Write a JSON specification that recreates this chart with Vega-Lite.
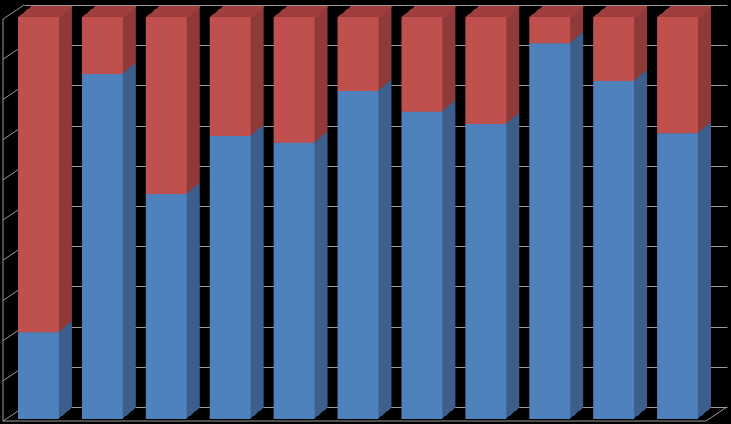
{
  "width": 703,
  "height": 402,
  "autosize": {"type": "none"},
  "padding": {"left": 24, "top": 5, "right": 4, "bottom": 17},
  "background": "#000000",
  "config": {
    "view": {"stroke": null},
    "axisY": {"domain": false, "ticks": false, "labels": false, "grid": true, "gridColor": "#999999", "gridWidth": 1, "tickCount": 10, "titleOpacity": 0},
    "axisX": {"disable": true}
  },
  "datasets": {
    "bars": [
      {"cat": "1", "blue": 21.6, "total": 100},
      {"cat": "2", "blue": 85.8, "total": 100},
      {"cat": "3", "blue": 56.0, "total": 100},
      {"cat": "4", "blue": 70.4, "total": 100},
      {"cat": "5", "blue": 68.7, "total": 100},
      {"cat": "6", "blue": 81.6, "total": 100},
      {"cat": "7", "blue": 76.4, "total": 100},
      {"cat": "8", "blue": 73.4, "total": 100},
      {"cat": "9", "blue": 93.5, "total": 100},
      {"cat": "10", "blue": 84.1, "total": 100},
      {"cat": "11", "blue": 71.1, "total": 100}
    ],
    "levels": [
      {"c": "1", "lv": 0}, {"c": "1", "lv": 10}, {"c": "1", "lv": 20}, {"c": "1", "lv": 30}, {"c": "1", "lv": 40}, {"c": "1", "lv": 50},
      {"c": "1", "lv": 60}, {"c": "1", "lv": 70}, {"c": "1", "lv": 80}, {"c": "1", "lv": 90}, {"c": "1", "lv": 100}
    ],
    "edges": [
      {"first": "1", "last": "11", "low": 0, "high": 100}
    ]
  },
  "data": {"name": "bars"},
  "layer": [
    {"data": {"name": "levels"}, "mark": {"type": "rule", "color": "#999999", "strokeWidth": 1, "xOffset": -31.95, "x2Offset": -52.95, "yOffset": 0, "y2Offset": 14}, "encoding": {"x": {"field": "c", "type": "ordinal", "scale": {"domain": ["1", "2", "3", "4", "5", "6", "7", "8", "9", "10", "11"], "paddingInner": 0.36, "paddingOuter": 0.18}}, "x2": {"field": "c"}, "y": {"field": "lv", "type": "quantitative", "scale": {"domain": [0, 100], "nice": false}}, "y2": {"field": "lv"}}},
    {"data": {"name": "edges"}, "mark": {"type": "rule", "color": "#999999", "strokeWidth": 1, "xOffset": -52.95, "yOffset": 14, "y2Offset": 14}, "encoding": {"x": {"field": "first", "type": "ordinal"}, "y": {"field": "low", "type": "quantitative"}, "y2": {"field": "high"}}},
    {"data": {"name": "edges"}, "mark": {"type": "rule", "color": "#999999", "strokeWidth": 1, "xOffset": -52.95, "x2Offset": 10.96, "yOffset": 14, "y2Offset": 14}, "encoding": {"x": {"field": "first", "type": "ordinal"}, "x2": {"field": "last"}, "y": {"field": "low", "type": "quantitative"}, "y2": {"field": "low"}}},
    {"data": {"name": "edges"}, "mark": {"type": "rule", "color": "#999999", "strokeWidth": 1, "xOffset": 10.96, "x2Offset": 31.96, "yOffset": 14, "y2Offset": 0}, "encoding": {"x": {"field": "last", "type": "ordinal"}, "x2": {"field": "last"}, "y": {"field": "low", "type": "quantitative"}, "y2": {"field": "low"}}},

    {"mark": {"type": "bar", "color": "#3d5f8c", "xOffset": -4.5, "yOffset": 1, "y2Offset": 1}, "encoding": {"x": {"field": "cat", "type": "ordinal"}, "y": {"field": "blue", "type": "quantitative"}}},
    {"mark": {"type": "bar", "color": "#8f3b39", "xOffset": -4.5, "yOffset": 1, "y2Offset": 1}, "encoding": {"x": {"field": "cat", "type": "ordinal"}, "y": {"field": "blue", "type": "quantitative"}, "y2": {"field": "total"}}},
    {"mark": {"type": "tick", "color": "#a4423f", "size": 41, "thickness": 2, "xOffset": -4.5, "yOffset": 2}, "encoding": {"x": {"field": "cat", "type": "ordinal"}, "y": {"field": "total", "type": "quantitative"}}},

    {"mark": {"type": "bar", "color": "#3d5f8c", "xOffset": -5.5, "yOffset": 2, "y2Offset": 2}, "encoding": {"x": {"field": "cat", "type": "ordinal"}, "y": {"field": "blue", "type": "quantitative"}}},
    {"mark": {"type": "bar", "color": "#8f3b39", "xOffset": -5.5, "yOffset": 2, "y2Offset": 2}, "encoding": {"x": {"field": "cat", "type": "ordinal"}, "y": {"field": "blue", "type": "quantitative"}, "y2": {"field": "total"}}},
    {"mark": {"type": "tick", "color": "#a4423f", "size": 41, "thickness": 2, "xOffset": -5.5, "yOffset": 3}, "encoding": {"x": {"field": "cat", "type": "ordinal"}, "y": {"field": "total", "type": "quantitative"}}},

    {"mark": {"type": "bar", "color": "#3d5f8c", "xOffset": -6.5, "yOffset": 3, "y2Offset": 3}, "encoding": {"x": {"field": "cat", "type": "ordinal"}, "y": {"field": "blue", "type": "quantitative"}}},
    {"mark": {"type": "bar", "color": "#8f3b39", "xOffset": -6.5, "yOffset": 3, "y2Offset": 3}, "encoding": {"x": {"field": "cat", "type": "ordinal"}, "y": {"field": "blue", "type": "quantitative"}, "y2": {"field": "total"}}},
    {"mark": {"type": "tick", "color": "#a4423f", "size": 41, "thickness": 2, "xOffset": -6.5, "yOffset": 4}, "encoding": {"x": {"field": "cat", "type": "ordinal"}, "y": {"field": "total", "type": "quantitative"}}},

    {"mark": {"type": "bar", "color": "#3d5f8c", "xOffset": -7.5, "yOffset": 4, "y2Offset": 4}, "encoding": {"x": {"field": "cat", "type": "ordinal"}, "y": {"field": "blue", "type": "quantitative"}}},
    {"mark": {"type": "bar", "color": "#8f3b39", "xOffset": -7.5, "yOffset": 4, "y2Offset": 4}, "encoding": {"x": {"field": "cat", "type": "ordinal"}, "y": {"field": "blue", "type": "quantitative"}, "y2": {"field": "total"}}},
    {"mark": {"type": "tick", "color": "#a4423f", "size": 41, "thickness": 2, "xOffset": -7.5, "yOffset": 5}, "encoding": {"x": {"field": "cat", "type": "ordinal"}, "y": {"field": "total", "type": "quantitative"}}},

    {"mark": {"type": "bar", "color": "#3d5f8c", "xOffset": -8.5, "yOffset": 4, "y2Offset": 4}, "encoding": {"x": {"field": "cat", "type": "ordinal"}, "y": {"field": "blue", "type": "quantitative"}}},
    {"mark": {"type": "bar", "color": "#8f3b39", "xOffset": -8.5, "yOffset": 4, "y2Offset": 4}, "encoding": {"x": {"field": "cat", "type": "ordinal"}, "y": {"field": "blue", "type": "quantitative"}, "y2": {"field": "total"}}},
    {"mark": {"type": "tick", "color": "#a4423f", "size": 41, "thickness": 2, "xOffset": -8.5, "yOffset": 5}, "encoding": {"x": {"field": "cat", "type": "ordinal"}, "y": {"field": "total", "type": "quantitative"}}},

    {"mark": {"type": "bar", "color": "#3d5f8c", "xOffset": -9.5, "yOffset": 5, "y2Offset": 5}, "encoding": {"x": {"field": "cat", "type": "ordinal"}, "y": {"field": "blue", "type": "quantitative"}}},
    {"mark": {"type": "bar", "color": "#8f3b39", "xOffset": -9.5, "yOffset": 5, "y2Offset": 5}, "encoding": {"x": {"field": "cat", "type": "ordinal"}, "y": {"field": "blue", "type": "quantitative"}, "y2": {"field": "total"}}},
    {"mark": {"type": "tick", "color": "#a4423f", "size": 41, "thickness": 2, "xOffset": -9.5, "yOffset": 6}, "encoding": {"x": {"field": "cat", "type": "ordinal"}, "y": {"field": "total", "type": "quantitative"}}},

    {"mark": {"type": "bar", "color": "#3d5f8c", "xOffset": -10.5, "yOffset": 6, "y2Offset": 6}, "encoding": {"x": {"field": "cat", "type": "ordinal"}, "y": {"field": "blue", "type": "quantitative"}}},
    {"mark": {"type": "bar", "color": "#8f3b39", "xOffset": -10.5, "yOffset": 6, "y2Offset": 6}, "encoding": {"x": {"field": "cat", "type": "ordinal"}, "y": {"field": "blue", "type": "quantitative"}, "y2": {"field": "total"}}},
    {"mark": {"type": "tick", "color": "#a4423f", "size": 41, "thickness": 2, "xOffset": -10.5, "yOffset": 7}, "encoding": {"x": {"field": "cat", "type": "ordinal"}, "y": {"field": "total", "type": "quantitative"}}},

    {"mark": {"type": "bar", "color": "#3d5f8c", "xOffset": -11.5, "yOffset": 7, "y2Offset": 7}, "encoding": {"x": {"field": "cat", "type": "ordinal"}, "y": {"field": "blue", "type": "quantitative"}}},
    {"mark": {"type": "bar", "color": "#8f3b39", "xOffset": -11.5, "yOffset": 7, "y2Offset": 7}, "encoding": {"x": {"field": "cat", "type": "ordinal"}, "y": {"field": "blue", "type": "quantitative"}, "y2": {"field": "total"}}},
    {"mark": {"type": "tick", "color": "#a4423f", "size": 41, "thickness": 2, "xOffset": -11.5, "yOffset": 8}, "encoding": {"x": {"field": "cat", "type": "ordinal"}, "y": {"field": "total", "type": "quantitative"}}},

    {"mark": {"type": "bar", "color": "#3d5f8c", "xOffset": -12.5, "yOffset": 8, "y2Offset": 8}, "encoding": {"x": {"field": "cat", "type": "ordinal"}, "y": {"field": "blue", "type": "quantitative"}}},
    {"mark": {"type": "bar", "color": "#8f3b39", "xOffset": -12.5, "yOffset": 8, "y2Offset": 8}, "encoding": {"x": {"field": "cat", "type": "ordinal"}, "y": {"field": "blue", "type": "quantitative"}, "y2": {"field": "total"}}},
    {"mark": {"type": "tick", "color": "#a4423f", "size": 41, "thickness": 2, "xOffset": -12.5, "yOffset": 9}, "encoding": {"x": {"field": "cat", "type": "ordinal"}, "y": {"field": "total", "type": "quantitative"}}},

    {"mark": {"type": "bar", "color": "#3d5f8c", "xOffset": -13.5, "yOffset": 9, "y2Offset": 9}, "encoding": {"x": {"field": "cat", "type": "ordinal"}, "y": {"field": "blue", "type": "quantitative"}}},
    {"mark": {"type": "bar", "color": "#8f3b39", "xOffset": -13.5, "yOffset": 9, "y2Offset": 9}, "encoding": {"x": {"field": "cat", "type": "ordinal"}, "y": {"field": "blue", "type": "quantitative"}, "y2": {"field": "total"}}},
    {"mark": {"type": "tick", "color": "#a4423f", "size": 41, "thickness": 2, "xOffset": -13.5, "yOffset": 10}, "encoding": {"x": {"field": "cat", "type": "ordinal"}, "y": {"field": "total", "type": "quantitative"}}},

    {"mark": {"type": "bar", "color": "#3d5f8c", "xOffset": -14.5, "yOffset": 9, "y2Offset": 9}, "encoding": {"x": {"field": "cat", "type": "ordinal"}, "y": {"field": "blue", "type": "quantitative"}}},
    {"mark": {"type": "bar", "color": "#8f3b39", "xOffset": -14.5, "yOffset": 9, "y2Offset": 9}, "encoding": {"x": {"field": "cat", "type": "ordinal"}, "y": {"field": "blue", "type": "quantitative"}, "y2": {"field": "total"}}},
    {"mark": {"type": "tick", "color": "#a4423f", "size": 41, "thickness": 2, "xOffset": -14.5, "yOffset": 10}, "encoding": {"x": {"field": "cat", "type": "ordinal"}, "y": {"field": "total", "type": "quantitative"}}},

    {"mark": {"type": "bar", "color": "#3d5f8c", "xOffset": -15.5, "yOffset": 10, "y2Offset": 10}, "encoding": {"x": {"field": "cat", "type": "ordinal"}, "y": {"field": "blue", "type": "quantitative"}}},
    {"mark": {"type": "bar", "color": "#8f3b39", "xOffset": -15.5, "yOffset": 10, "y2Offset": 10}, "encoding": {"x": {"field": "cat", "type": "ordinal"}, "y": {"field": "blue", "type": "quantitative"}, "y2": {"field": "total"}}},
    {"mark": {"type": "tick", "color": "#a4423f", "size": 41, "thickness": 2, "xOffset": -15.5, "yOffset": 11}, "encoding": {"x": {"field": "cat", "type": "ordinal"}, "y": {"field": "total", "type": "quantitative"}}},

    {"mark": {"type": "bar", "color": "#3d5f8c", "xOffset": -16.5, "yOffset": 11, "y2Offset": 11}, "encoding": {"x": {"field": "cat", "type": "ordinal"}, "y": {"field": "blue", "type": "quantitative"}}},
    {"mark": {"type": "bar", "color": "#8f3b39", "xOffset": -16.5, "yOffset": 11, "y2Offset": 11}, "encoding": {"x": {"field": "cat", "type": "ordinal"}, "y": {"field": "blue", "type": "quantitative"}, "y2": {"field": "total"}}},
    {"mark": {"type": "tick", "color": "#a4423f", "size": 41, "thickness": 2, "xOffset": -16.5, "yOffset": 12}, "encoding": {"x": {"field": "cat", "type": "ordinal"}, "y": {"field": "total", "type": "quantitative"}}},

    {"mark": {"type": "bar", "color": "#4f81bd", "xOffset": -17.5, "yOffset": 12, "y2Offset": 12}, "encoding": {"x": {"field": "cat", "type": "ordinal"}, "y": {"field": "blue", "type": "quantitative"}}},
    {"mark": {"type": "bar", "color": "#c0504d", "xOffset": -17.5, "yOffset": 12, "y2Offset": 12}, "encoding": {"x": {"field": "cat", "type": "ordinal"}, "y": {"field": "blue", "type": "quantitative"}, "y2": {"field": "total"}}}
  ]
}
